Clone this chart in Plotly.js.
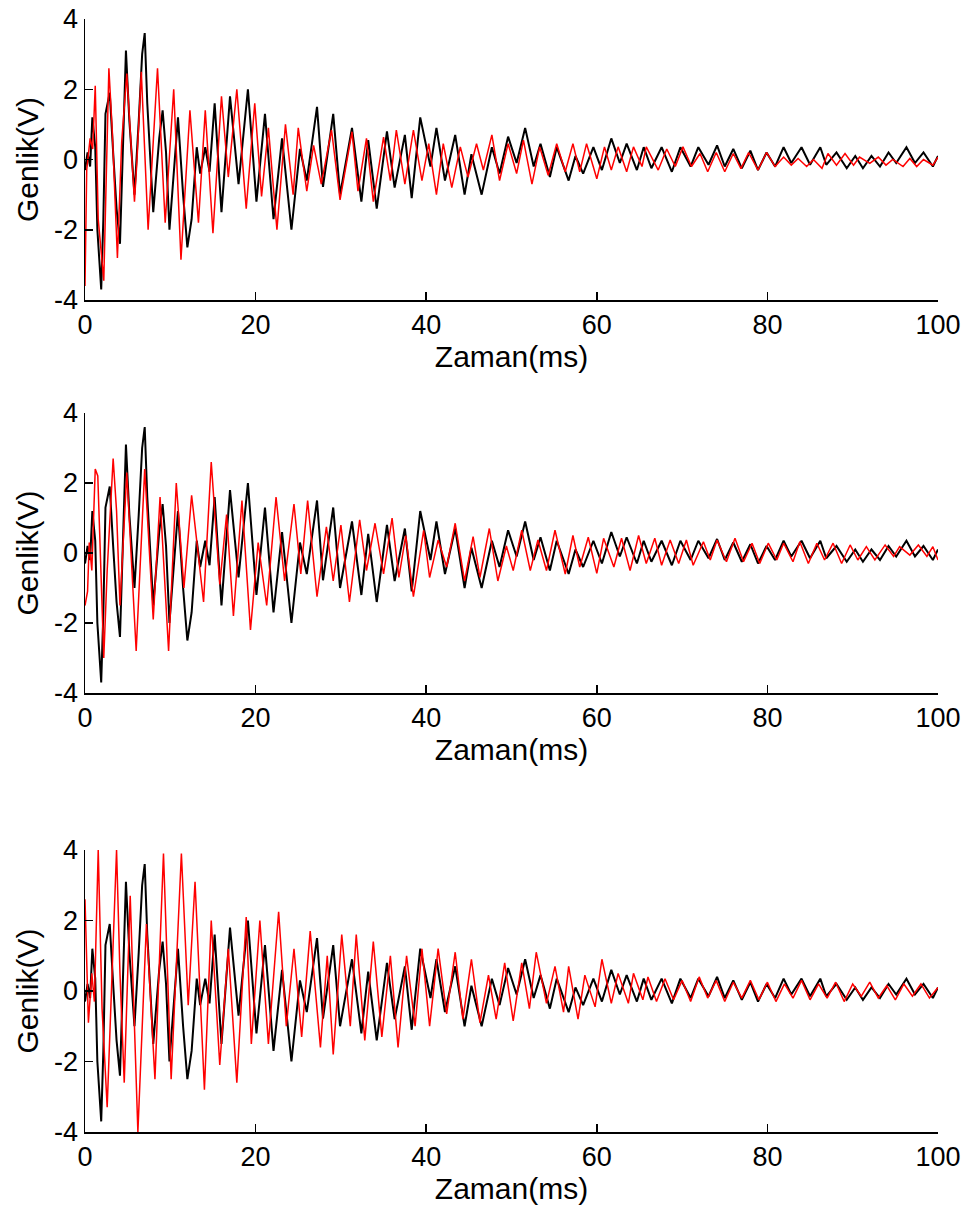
<!DOCTYPE html>
<html>
<head>
<meta charset="utf-8">
<script src="https://cdn.plot.ly/plotly-3.0.1.min.js"></script>
<style>html,body{margin:0;padding:0;background:#fff;}#chart{width:972px;height:1214px;}</style>
</head>
<body>
<div id="chart"></div>
<script>
// Black reference signal (same in all three panels)
const timeBlack = [0,0.3,0.6,0.86,1.2,1.45,1.9,2.15,2.4,2.9,3.3,3.7,4.1,4.5,4.8,5.2,5.8,6.3,6.7,7.0,7.3,8.0,8.7,9.1,9.5,9.9,10.4,10.9,11.5,12.0,12.5,13.1,13.5,14.1,14.6,15.2,16.0,17.0,18.0,19.1,20.1,21.1,22.1,23.1,24.2,25.2,26.0,27.2,27.9,29.1,29.9,31.3,32.4,33.2,34.2,35.4,36.3,37.5,38.3,39.3,40.5,41.2,42.2,43.4,44.5,45.3,46.5,47.7,48.6,49.6,50.6,51.6,52.6,53.4,54.5,55.3,56.7,57.5,58.4,59.6,60.6,61.7,62.7,63.5,64.7,65.5,66.4,67.6,68.8,69.8,71.0,71.9,73.1,74.1,75.0,76.0,77.0,78.0,78.9,79.9,80.9,81.9,82.8,84.0,85.0,86.2,86.9,88.1,89.3,90.3,91.2,92.2,93.2,94.2,95.1,96.3,97.3,98.3,99.4,100];
const voltBlack = [-0.3,0.2,-0.2,1.2,0.35,-2.0,-3.7,-1.7,1.3,1.9,0.2,-1.4,-2.4,1.1,3.1,1.1,-1.0,1.1,3.0,3.6,1.6,-1.5,0.6,1.4,0.2,-2.0,-0.3,1.2,-1.0,-2.5,-1.7,0.35,-0.4,0.35,-0.35,1.6,-1.5,1.8,-0.7,2.0,-1.2,1.3,-1.7,0.6,-2.0,0.3,-0.6,1.5,-0.78,1.3,-1.0,0.9,-1.2,0.55,-1.4,0.8,-0.8,0.7,-1.1,1.2,-0.2,0.9,-0.6,0.7,-1.0,0.15,-1.0,0.35,-0.4,0.65,-0.1,0.9,-0.2,0.45,-0.5,0.35,-0.6,0.1,-0.4,0.35,-0.3,0.6,-0.1,0.45,-0.3,0.35,-0.25,0.35,-0.35,0.35,-0.2,0.35,-0.15,0.4,-0.2,0.3,-0.25,0.25,-0.3,0.2,-0.2,0.35,-0.1,0.35,-0.15,0.35,-0.15,0.2,-0.25,0.1,-0.25,0.1,-0.2,0.2,-0.1,0.35,-0.1,0.2,-0.2,0.1];

// Red signal, top panel
const timeRedTop = [0,0.2,0.6,0.9,1.2,1.55,2.2,2.5,2.8,3.2,3.8,4.3,4.9,5.8,6.1,6.6,7.4,8.0,8.5,9.4,10.4,11.25,12.3,13.3,14.1,15.0,16.0,16.8,17.8,18.9,19.9,20.7,21.5,22.5,23.5,24.4,25.0,26.0,26.8,27.7,28.9,29.9,31.3,32.0,33.0,33.8,35.0,35.8,36.5,37.5,38.5,39.5,40.3,41.2,42.0,43.0,44.0,44.9,45.9,46.7,47.7,48.6,49.6,50.6,51.4,52.4,53.3,54.3,55.3,56.3,57.2,58.0,58.8,60.0,60.9,61.7,62.5,63.5,64.3,65.3,65.8,67.2,68.2,69.2,70.1,71.1,72.1,73.0,74.0,75.0,76.0,76.9,77.8,78.9,79.9,80.9,81.9,82.8,83.6,84.6,85.4,86.4,87.1,88.1,89.1,90.1,90.8,92.0,93.0,93.9,94.7,95.9,96.7,97.5,98.3,99.4,100];
const voltRedTop = [-3.6,-0.3,0.6,0.3,2.1,-1.7,-3.45,-0.5,2.6,0.8,-2.8,0.5,2.45,-1.2,0.0,2.5,-2.0,0.5,2.6,-1.8,2.0,-2.85,1.4,-1.8,1.4,-2.1,1.8,-0.5,2.0,-1.4,1.6,-1.05,0.9,-2.0,1.0,-1.0,0.9,-0.9,0.4,-0.7,0.84,-1.15,0.79,-0.9,0.6,-1.2,0.64,-0.6,0.84,-0.7,0.84,-0.6,0.45,-1.0,0.45,-0.8,0.36,-0.5,0.45,-0.3,0.7,-0.6,0.45,-0.4,0.55,-0.7,0.36,-0.45,0.45,-0.35,0.45,-0.35,0.45,-0.55,0.36,-0.3,0.36,-0.35,0.36,-0.2,0.36,-0.3,0.3,-0.2,0.36,-0.2,0.17,-0.35,0.2,-0.35,0.17,-0.26,0.2,-0.3,0.2,-0.2,0.07,-0.16,0.03,-0.2,0.0,-0.25,0.17,-0.16,0.17,-0.16,0.07,-0.11,0.07,-0.16,0.0,-0.2,0.03,-0.2,0.0,-0.16,0.07];

// Red signal, middle panel
const timeRedMid = [0,0.3,0.5,0.8,1.2,1.5,2.2,2.6,3.3,3.7,4.1,4.9,6.0,7.0,8.0,8.8,9.8,10.7,11.6,12.5,13.9,14.8,15.8,16.6,17.4,18.4,19.4,20.3,21.3,22.4,23.4,24.5,25.3,26.1,27.2,28.3,29.1,30.0,31.0,32.2,33.0,34.0,35.0,36.0,36.8,37.6,38.5,39.7,40.4,41.4,42.4,43.4,44.5,45.5,46.3,47.4,48.4,49.4,50.2,51.2,52.2,53.1,54.1,55.1,56.3,57.2,58.0,59.0,60.0,60.8,62.0,62.9,63.9,64.9,65.8,66.8,67.6,68.6,69.6,70.5,71.3,72.5,73.3,74.1,75.2,76.2,77.2,78.2,79.1,80.1,81.1,81.9,83.0,83.8,84.8,85.8,86.7,87.7,88.7,89.7,90.6,91.6,92.6,93.8,94.8,95.5,96.7,97.7,98.7,99.4,100];
const voltRedMid = [-1.5,-1.1,0.3,-0.5,2.4,2.2,-3.0,-0.5,2.7,1.2,-1.5,2.3,-2.8,2.4,-1.9,1.6,-2.8,2.0,-1.0,1.65,-1.4,2.6,-0.9,1.1,-1.8,1.5,-2.2,0.3,-1.5,1.6,-0.8,1.4,-0.6,1.5,-1.25,0.75,-0.8,0.8,-1.4,0.95,-0.5,0.85,-0.6,1.0,-0.7,0.5,-1.25,0.65,-0.7,0.37,-0.4,0.85,-0.8,0.47,-0.7,0.7,-0.8,0.2,-0.5,0.65,-0.5,0.37,-0.5,0.65,-0.6,0.5,-0.4,0.45,-0.58,0.42,-0.4,0.42,-0.5,0.5,-0.3,0.42,-0.35,0.37,-0.3,0.37,-0.35,0.32,-0.2,0.37,-0.25,0.42,-0.25,0.28,-0.3,0.28,-0.2,0.28,-0.25,0.32,-0.3,0.28,-0.2,0.28,-0.3,0.23,-0.2,0.18,-0.2,0.23,-0.1,0.18,-0.06,0.23,-0.1,0.18,-0.2];

// Red signal, bottom panel
const timeRedBot = [0,0.4,0.8,1.1,1.55,2.0,2.6,3.0,3.7,4.1,4.6,5.3,6.2,7.2,8.2,9.2,10.1,11.3,12.1,12.9,14.0,14.8,15.8,16.8,17.8,18.9,19.5,20.5,21.5,22.7,23.6,24.5,25.4,26.4,27.6,28.4,29.1,30.1,31.1,31.8,32.8,33.8,34.8,35.8,36.7,37.7,38.7,39.5,40.4,41.4,42.4,43.4,44.3,45.3,46.3,47.3,48.2,49.2,50.2,51.2,52.1,52.9,54.1,55.1,56.1,56.7,57.8,58.6,59.8,60.6,61.7,62.5,63.7,64.3,65.4,66.0,67.0,68.0,69.0,70.0,71.0,72.0,73.0,74.0,75.0,76.0,77.0,78.0,79.0,80.0,81.0,82.0,83.0,84.0,85.0,86.0,87.0,88.0,89.0,90.0,91.0,92.0,93.0,94.0,95.0,96.0,97.0,98.0,99.0,100];
const voltRedBot = [2.6,-0.9,0.5,-0.3,4.0,-0.5,-3.3,-0.5,4.0,0.5,-2.6,2.7,-4.0,1.9,-2.5,3.9,-2.5,3.9,-0.4,3.1,-2.8,2.0,-2.1,1.2,-2.6,2.1,-1.5,2.0,-1.5,2.25,-1.0,1.2,-1.3,1.7,-1.6,1.0,-1.8,1.6,-1.0,1.6,-1.4,1.4,-1.3,1.0,-1.6,1.0,-1.0,1.2,-1.0,1.2,-0.65,1.1,-0.8,0.9,-0.9,0.45,-0.8,0.8,-0.85,0.8,-0.5,1.1,-0.35,0.7,-0.6,0.7,-0.8,0.45,-0.45,0.9,-0.35,0.5,-0.35,0.5,-0.25,0.4,-0.3,0.35,-0.25,0.3,-0.3,0.4,-0.2,0.3,-0.3,0.25,-0.2,0.3,-0.25,0.25,-0.3,0.2,-0.2,0.3,-0.25,0.2,-0.2,0.25,-0.3,0.2,-0.15,0.25,-0.2,0.15,-0.25,0.2,-0.15,0.2,-0.2,0.1];

const xTicks = [0,20,40,60,80,100];
const yTicks = [-4,-2,0,2,4];
const xLabel = 'Zaman(ms)';
const yLabel = 'Genlik(V)';

const FONT = 'Liberation Sans, Arial, sans-serif';
const redSets = [[timeRedTop, voltRedTop],[timeRedMid, voltRedMid],[timeRedBot, voltRedBot]];
const traces = [];
redSets.forEach((r, i) => {
  const xa = i === 0 ? 'x' : 'x' + (i + 1);
  const ya = i === 0 ? 'y' : 'y' + (i + 1);
  traces.push({x: timeBlack, y: voltBlack, xaxis: xa, yaxis: ya, mode: 'lines', line: {color: '#000000', width: 2}, hoverinfo: 'skip', showlegend: false});
  traces.push({x: r[0], y: r[1], xaxis: xa, yaxis: ya, mode: 'lines', line: {color: '#ff0000', width: 1.5}, hoverinfo: 'skip', showlegend: false});
});

const xDom = [85/972, 938/972];
const yDoms = [[(1214-300)/1214, (1214-19)/1214], [(1214-693)/1214, (1214-413)/1214], [(1214-1132)/1214, (1214-850)/1214]];

function xAxis(i) {
  return {domain: xDom, range: [0, 100], anchor: i === 0 ? 'y' : 'y' + (i + 1), tickvals: xTicks, ticktext: xTicks.map(String),
    ticks: 'inside', ticklen: 8, tickwidth: 1.5, tickcolor: '#000', showline: true, linecolor: '#000', linewidth: 1.5,
    showgrid: false, zeroline: false, tickfont: {family: FONT, size: 27, color: '#000'},
    title: {text: xLabel, font: {family: FONT, size: 30, color: '#000'}, standoff: 3}, automargin: false};
}
function yAxis(i) {
  return {domain: yDoms[i], range: [-4, 4], anchor: i === 0 ? 'x' : 'x' + (i + 1), tickvals: yTicks, ticktext: yTicks.map(String),
    ticks: 'inside', ticklen: 8, tickwidth: 1.5, tickcolor: '#000', showline: true, linecolor: '#000', linewidth: 1.5,
    showgrid: false, zeroline: false, tickfont: {family: FONT, size: 27, color: '#000'},
    title: {text: yLabel, font: {family: FONT, size: 30, color: '#000'}, standoff: 6}, automargin: false};
}

const layout = {
  width: 972, height: 1214, margin: {l: 0, r: 0, t: 0, b: 0}, paper_bgcolor: '#fff', plot_bgcolor: '#fff',
  showlegend: false,
  xaxis: xAxis(0), yaxis: yAxis(0), xaxis2: xAxis(1), yaxis2: yAxis(1), xaxis3: xAxis(2), yaxis3: yAxis(2)
};
Plotly.newPlot('chart', traces, layout, {displayModeBar: false, staticPlot: true});
</script>
</body>
</html>
